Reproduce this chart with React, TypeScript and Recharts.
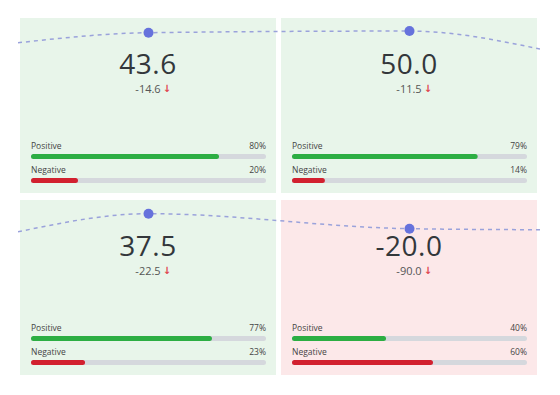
import React from "react";
import { LineChart, Line, XAxis, YAxis, BarChart, Bar, Cell, LabelList } from "recharts";

// card values, row by row
const scores = [43.6, 50.0, 37.5, -20.0];
const deltas = [-14.6, -11.5, -22.5, -90.0];
const positive = [80, 79, 77, 40];
const negative = [20, 14, 23, 60];
const barLabels = ["Positive", "Negative"];

// dashed trend behind each row: left edge, card 1, card 2, right edge
const trendSlots = [-0.5, 0, 1, 1.5];
const trendRows = [
  [5, 43.6, 50.0, -19],
  [-32, 37.5, -20.0, -24],
];
const trendDomains: [number, number][] = [
  [-130, 100],
  [-140, 90],
];

const GREEN = "#2cae43";
const RED = "#d2202f";
const TRACK = "#d5d8dd";
const BG_OK = "#e8f5ea";
const BG_BAD = "#fce8e9";
const DOT = "#6672dc";
const DASH = "#9aa2db";
const FONT = "'Open Sans', sans-serif";

const CARD_W = 256;
const CARD_H = 175;
const colLeft = [20, 281];
const rowTop = [18, 200];

const M = { top: 8, right: 10, bottom: 4, left: 11 };
const TRACK_END = CARD_W - M.right;

function fmt(v: number) {
  return v.toFixed(1);
}

function Card({ i }: { i: number }) {
  const row = Math.floor(i / 2);
  const col = i % 2;
  const bars = barLabels.map((name, k) => ({
    name,
    value: k === 0 ? positive[i] : negative[i],
  }));
  return (
    <div
      style={{
        position: "absolute",
        left: colLeft[col],
        top: rowTop[row],
        width: CARD_W,
        height: CARD_H,
        background: scores[i] < 0 ? BG_BAD : BG_OK,
      }}
    >
      <div
        style={{
          position: "absolute",
          top: 31,
          left: 0,
          width: CARD_W,
          textAlign: "center",
          fontSize: 28,
          lineHeight: "28px",
          color: "#33373b",
          letterSpacing: 0.5,
        }}
      >
        {fmt(scores[i])}
      </div>
      <div
        style={{
          position: "absolute",
          top: 65,
          left: 0,
          width: CARD_W,
          textAlign: "center",
          fontSize: 11,
          lineHeight: "12px",
          color: "#555",
        }}
      >
        <span style={{ position: "relative" }}>
          {fmt(deltas[i])}
          <span
            style={{
              position: "absolute",
              left: "100%",
              marginLeft: 2,
              color: "#e0464f",
              fontFamily: "'DejaVu Sans', sans-serif",
              fontWeight: "bold",
              fontSize: 10,
            }}
          >
            ↓
          </span>
        </span>
      </div>
      <div style={{ position: "absolute", top: 118, left: 0 }}>
        <BarChart width={CARD_W} height={60} data={bars} layout="vertical" margin={M}>
          <XAxis type="number" domain={[0, 100]} hide />
          <YAxis type="category" dataKey="name" hide />
          <Bar
            dataKey="value"
            barSize={5}
            radius={2.5}
            background={{ fill: TRACK, radius: 2.5 } as any}
            isAnimationActive={false}
          >
            {bars.map((b, k) => (
              <Cell key={b.name} fill={k === 0 ? GREEN : RED} />
            ))}
            <LabelList
              dataKey="name"
              content={(p: any) => (
                <text x={M.left} y={p.y - 5} fontSize={8.5} fill="#444" fontFamily={FONT}>
                  {p.value}
                </text>
              )}
            />
            <LabelList
              dataKey="value"
              content={(p: any) => (
                <text
                  x={TRACK_END}
                  y={p.y - 5}
                  fontSize={8.5}
                  fill="#444"
                  textAnchor="end"
                  fontFamily={FONT}
                >
                  {p.value}%
                </text>
              )}
            />
          </Bar>
        </BarChart>
      </div>
    </div>
  );
}

function TrendRow({ r }: { r: number }) {
  const data = trendSlots.map((slot, k) => ({ slot, v: trendRows[r][k] }));
  return (
    <div style={{ position: "absolute", left: 18, top: rowTop[r], pointerEvents: "none" }}>
      <LineChart width={522} height={60} data={data} margin={{ top: 0, right: 0, bottom: 0, left: 0 }}>
        <XAxis type="number" dataKey="slot" domain={[-0.5, 1.5]} hide />
        <YAxis type="number" domain={trendDomains[r]} hide />
        <Line
          type="monotone"
          dataKey="v"
          stroke={DASH}
          strokeWidth={1.5}
          strokeDasharray="4 4"
          isAnimationActive={false}
          dot={(p: any) =>
            p.index === 1 || p.index === 2 ? (
              <circle key={p.index} cx={p.cx} cy={p.cy} r={5} fill={DOT} />
            ) : (
              <g key={p.index} />
            )
          }
        />
      </LineChart>
    </div>
  );
}

export default function App() {
  return (
    <div
      style={{
        position: "absolute",
        left: 0,
        top: 0,
        width: 560,
        height: 395,
        background: "#fff",
        fontFamily: FONT,
        overflow: "hidden",
      }}
    >
      {[0, 1, 2, 3].map((i) => (
        <Card key={i} i={i} />
      ))}
      <TrendRow r={0} />
      <TrendRow r={1} />
    </div>
  );
}
